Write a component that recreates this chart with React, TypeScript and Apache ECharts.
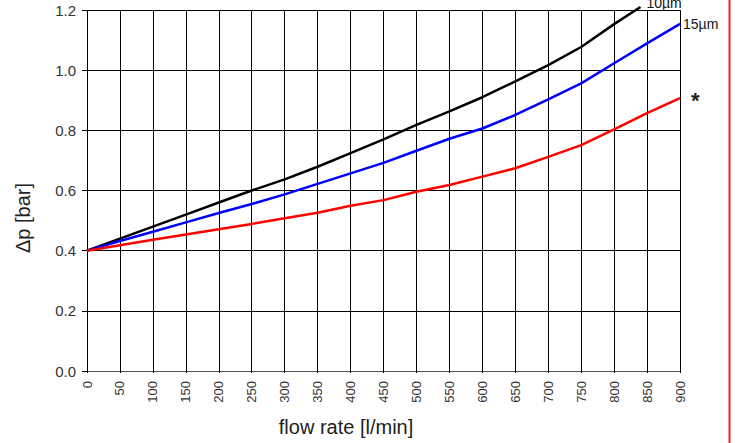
import React, { useEffect, useRef } from "react";
import * as echarts from "echarts";

const flowRates = [0, 50, 100, 150, 200, 250, 300, 350, 400, 450, 500, 550, 600, 650, 700, 750, 800, 850, 900];
const blackFlow = [0, 50, 100, 150, 200, 250, 300, 350, 400, 450, 500, 550, 600, 650, 700, 750, 800, 840];
const blackValues = [0.4, 0.44, 0.48, 0.52, 0.56, 0.6, 0.637, 0.679, 0.724, 0.77, 0.818, 0.863, 0.91, 0.963, 1.017, 1.077, 1.153, 1.21];
const blueValues = [0.4, 0.432, 0.463, 0.494, 0.525, 0.555, 0.587, 0.622, 0.657, 0.692, 0.732, 0.772, 0.806, 0.851, 0.903, 0.956, 1.023, 1.089, 1.154];
const redValues = [0.4, 0.418, 0.436, 0.454, 0.471, 0.489, 0.508, 0.526, 0.549, 0.568, 0.596, 0.618, 0.646, 0.674, 0.712, 0.751, 0.803, 0.857, 0.907];
const seriesNames = ["10µm", "15µm", "*"];
const yTicks = ["0.0", "0.2", "0.4", "0.6", "0.8", "1.0", "1.2"];
const xAxisTitle = "flow rate [l/min]";
const yAxisTitle = "Δp [bar]";

export default function App() {
  const ref = useRef<HTMLDivElement>(null);
  useEffect(() => {
    document.body.style.margin = "0";
    if (!ref.current) return;
    const chart = echarts.init(ref.current, null, { renderer: "svg" });
    const font = "'Liberation Sans', Arial, sans-serif";
    const pair = (xs: number[], ys: number[]) => xs.map((x, i) => [x, ys[i]]);
    chart.setOption({
      animation: false,
      grid: { left: 87, right: 58, top: 10, bottom: 72, containLabel: false },
      xAxis: {
        type: "value",
        min: 0,
        max: 900,
        interval: 50,
        axisLine: { show: true, lineStyle: { color: "#555", width: 1 } },
        axisTick: { show: true, inside: false, length: 2, lineStyle: { color: "#000" } },
        splitLine: { show: true, lineStyle: { color: "#000", width: 1 } },
        axisLabel: { rotate: 90, margin: 10, fontSize: 13, color: "#333", fontFamily: font },
      },
      yAxis: {
        type: "value",
        min: 0,
        max: 1.2,
        interval: 0.2,
        axisLine: { show: false },
        axisTick: { show: true, length: 5, lineStyle: { color: "#000" } },
        splitLine: { show: true, lineStyle: { color: "#000", width: 1 } },
        axisLabel: {
          margin: 11,
          fontSize: 15,
          color: "#333",
          fontFamily: font,
          formatter: (v: number) => yTicks[Math.round(v / 0.2)] ?? v.toFixed(1),
        },
      },
      series: [
        {
          name: seriesNames[0],
          type: "line",
          data: pair(blackFlow, blackValues),
          symbol: "none",
          clip: false,
          lineStyle: { color: "#000", width: 2.5 },
          endLabel: {
            show: true,
            formatter: "{a}",
            distance: 6,
            offset: [0, -4],
            fontSize: 14,
            color: "#111",
            fontFamily: font,
          },
        },
        {
          name: seriesNames[1],
          type: "line",
          data: pair(flowRates, blueValues),
          symbol: "none",
          lineStyle: { color: "#0000ff", width: 2.5 },
          endLabel: { show: true, formatter: "{a}", distance: 3, fontSize: 14, color: "#111", fontFamily: font },
        },
        {
          name: seriesNames[2],
          type: "line",
          data: pair(flowRates, redValues),
          symbol: "none",
          lineStyle: { color: "#ff0000", width: 2.5 },
          endLabel: {
            show: true,
            formatter: "{a}",
            distance: 11,
            offset: [0, 2],
            fontSize: 22,
            fontWeight: "bold",
            color: "#222",
            fontFamily: font,
          },
        },
      ],
      graphic: [
        {
          type: "line",
          shape: { x1: 729.5, y1: 0, x2: 729.5, y2: 443 },
          style: { stroke: "#ff2020", lineWidth: 2 },
        },
        {
          type: "text",
          x: 346,
          y: 427,
          style: { text: xAxisTitle, fontSize: 20, fontFamily: font, fill: "#222", textAlign: "center", textVerticalAlign: "middle" },
        },
        {
          type: "text",
          x: 23,
          y: 218,
          rotation: Math.PI / 2,
          style: { text: yAxisTitle, fontSize: 20, fontFamily: font, fill: "#222", textAlign: "center", textVerticalAlign: "middle" },
        },
      ],
    });
    return () => chart.dispose();
  }, []);
  return <div ref={ref} style={{ width: 738, height: 443 }} />;
}
